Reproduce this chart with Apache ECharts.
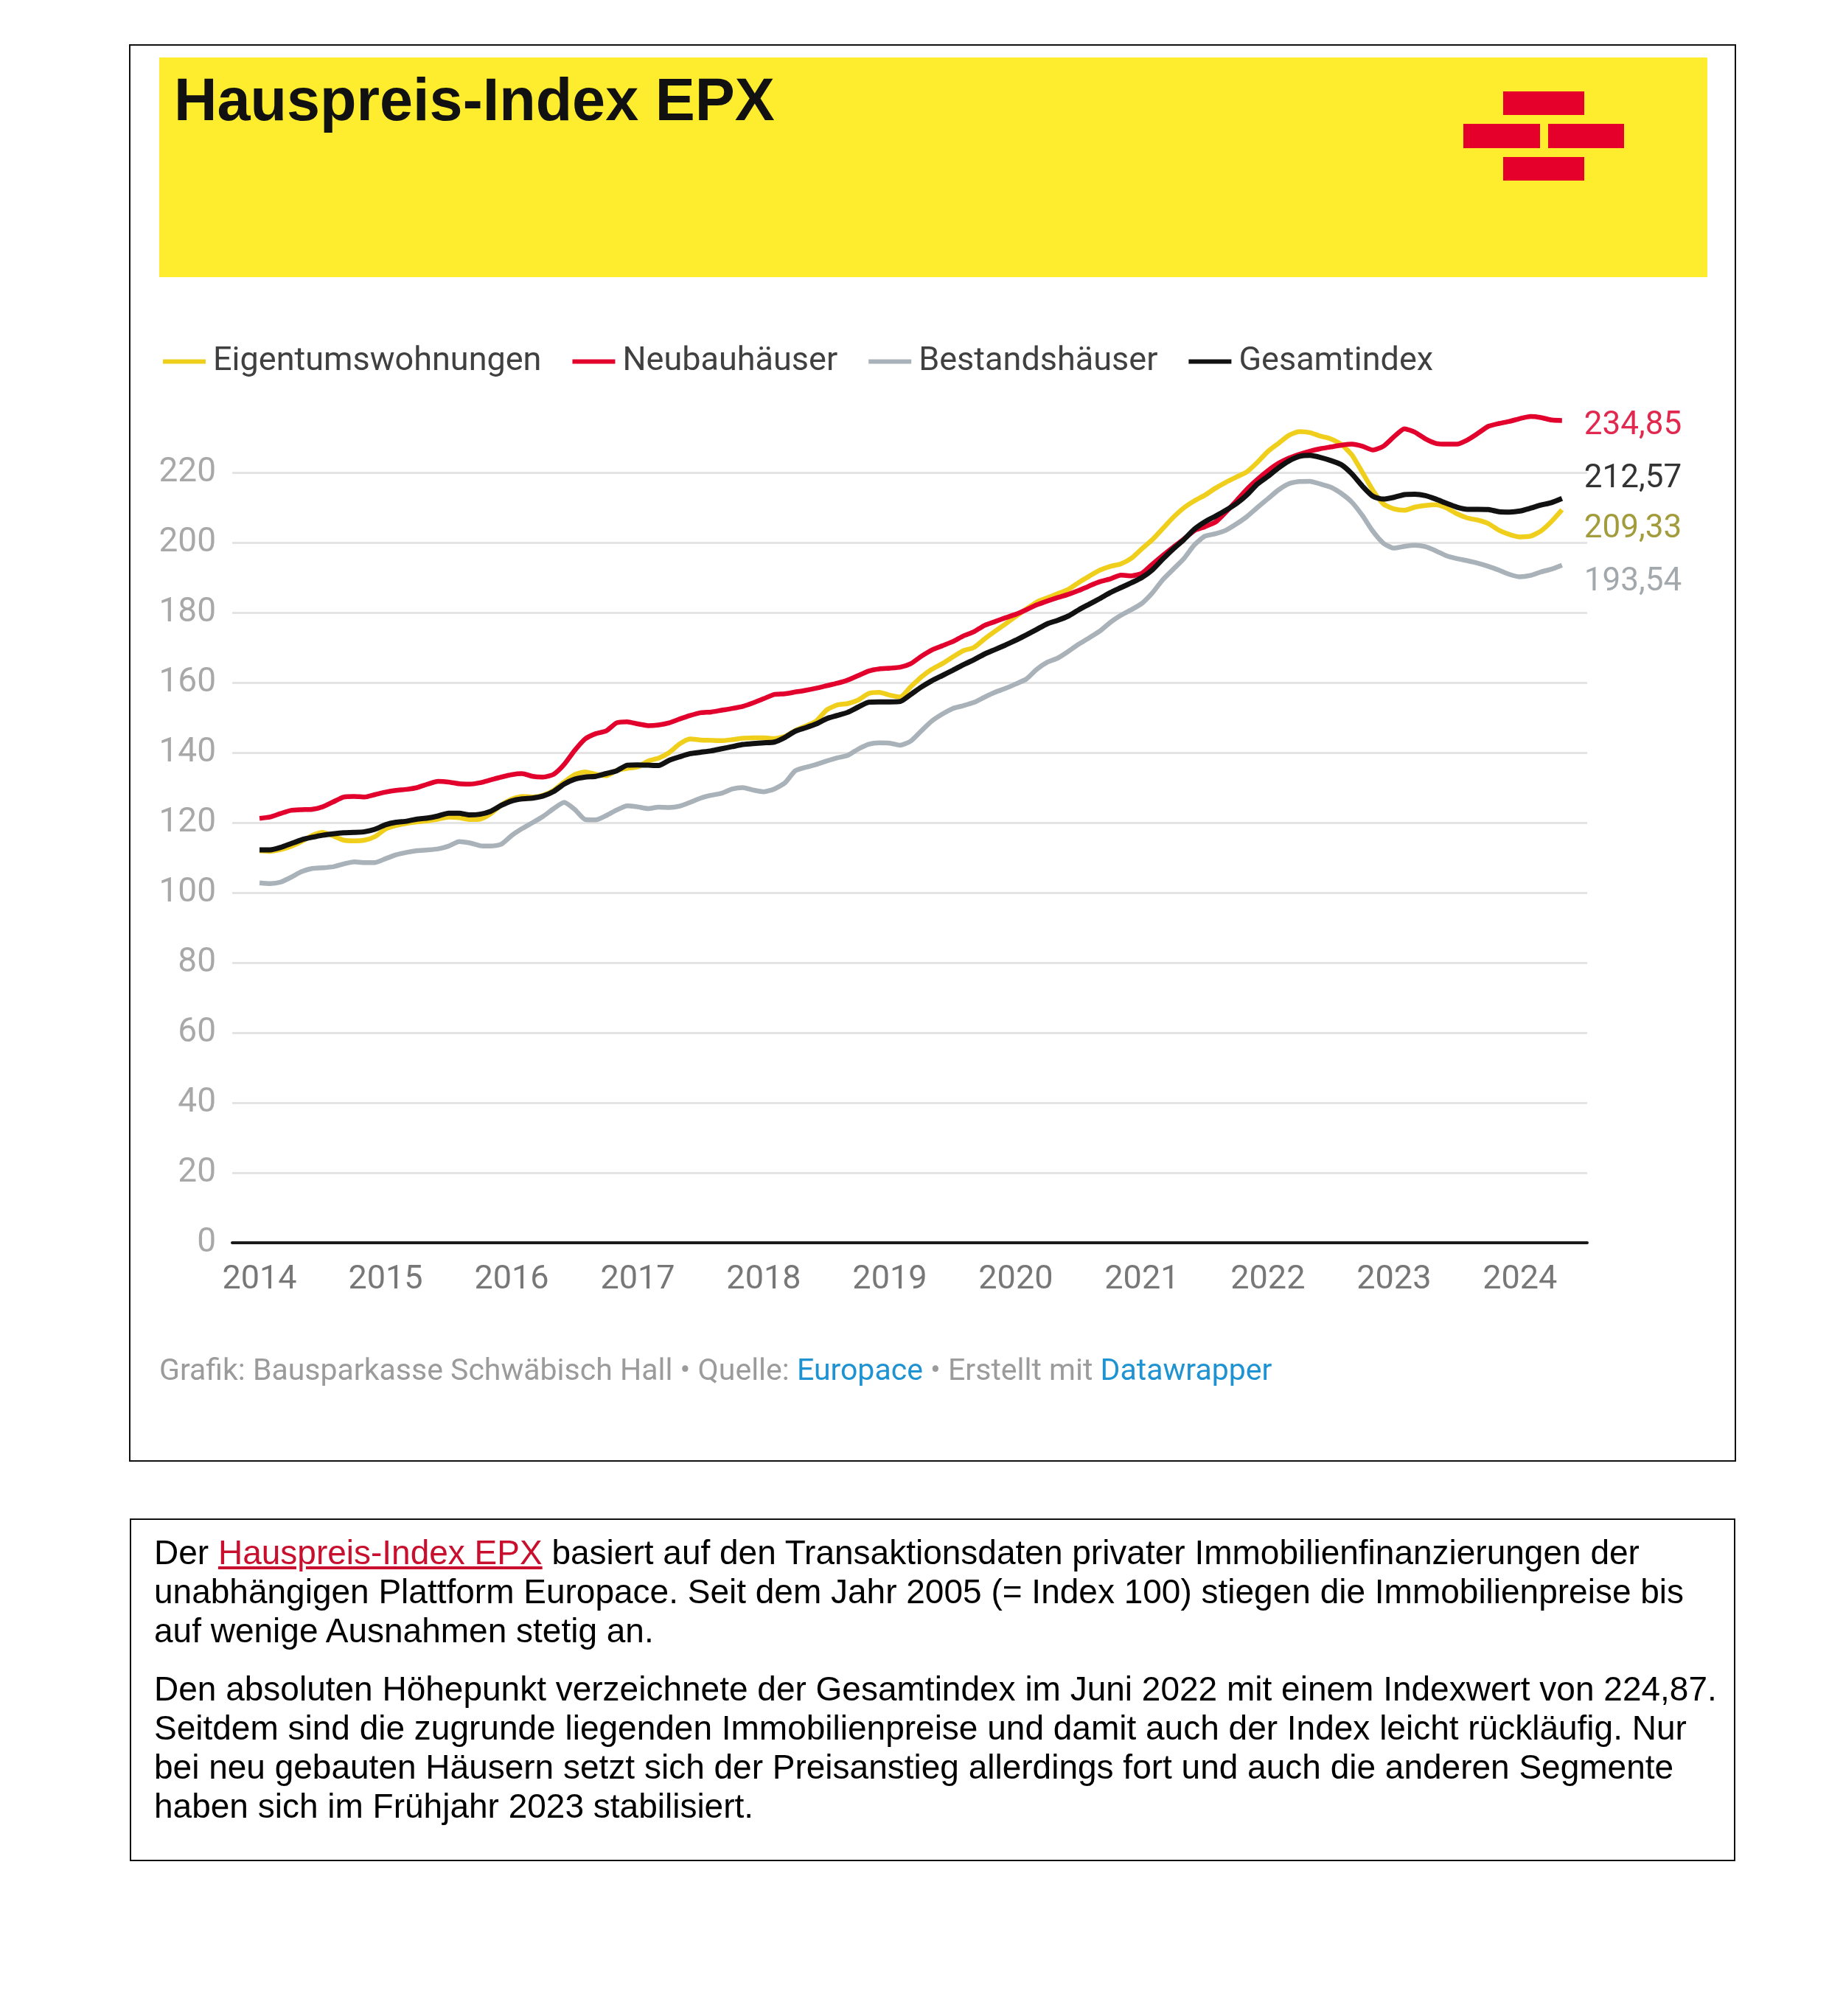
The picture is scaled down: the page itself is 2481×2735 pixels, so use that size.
<!DOCTYPE html>
<html>
<head>
<meta charset="utf-8">
<script src="https://cdn.jsdelivr.net/npm/echarts@6/dist/echarts.min.js"></script>
<style>
html,body{margin:0;padding:0;background:#fff;}
#chart{position:absolute;left:0;top:0;width:2481px;height:2735px;}
#note{position:absolute;left:176px;top:2060px;width:2174px;height:461px;border:2px solid #111;font-family:"Liberation Sans",Arial,sans-serif;font-size:46px;line-height:53px;color:#000;}
#note p{margin:0;padding:0 0 0 31px;white-space:nowrap;}
#note a{color:#c8102e;text-decoration:underline;}
</style>
</head>
<body>
<div id="chart"></div>
<div id="note">
<p style="margin-top:18px">Der <a>Hauspreis-Index EPX</a> basiert auf den Transaktionsdaten privater Immobilienfinanzierungen der<br>unabhängigen Plattform Europace. Seit dem Jahr 2005 (= Index 100) stiegen die Immobilienpreise bis<br>auf wenige Ausnahmen stetig an.</p>
<p style="margin-top:26px">Den absoluten Höhepunkt verzeichnete der Gesamtindex im Juni 2022 mit einem Indexwert von 224,87.<br>Seitdem sind die zugrunde liegenden Immobilienpreise und damit auch der Index leicht rückläufig. Nur<br>bei neu gebauten Häusern setzt sich der Preisanstieg allerdings fort und auch die anderen Segmente<br>haben sich im Frühjahr 2023 stabilisiert.</p>
</div>
<script>
// ---- data (monthly, Jan 2014 .. May 2024) ----
const years = ['2014','2015','2016','2017','2018','2019','2020','2021','2022','2023','2024'];
const seriesNames = ['Eigentumswohnungen','Neubauhäuser','Bestandshäuser','Gesamtindex'];
const endLabelTexts = ['209,33','234,85','193,54','212,57'];

const eigentumswohnungen = [
112.0,111.8,112.3,113.2,114.6,116.3,117.2,116.2,115.0,114.8,
115.0,116.0,118.2,119.2,119.8,120.2,120.5,121.0,121.6,121.4,
120.9,121.0,122.5,125.0,126.7,127.5,127.3,127.8,129.2,131.6,
133.7,134.5,133.8,133.4,134.9,135.5,135.9,137.6,138.4,140.0,
142.5,143.9,143.6,143.5,143.4,143.7,144.1,144.2,144.2,144.0,
144.6,146.3,147.6,149.0,152.2,153.6,154.0,155.0,156.9,157.2,
156.4,155.9,158.8,161.6,163.8,165.4,167.3,169.1,170.0,172.4,
174.6,176.7,178.9,181.0,183.0,184.2,185.4,186.6,188.6,190.4,
192.1,193.2,193.9,195.5,198.2,200.8,204.0,207.2,209.9,211.9,
213.5,215.5,217.2,218.7,220.2,222.9,226.0,228.3,230.6,231.7,
231.4,230.4,229.6,228.0,225.0,220.0,214.9,211.0,209.6,209.2,
210.1,210.6,210.8,209.9,208.2,207.0,206.4,205.4,203.5,202.3,
201.6,201.8,203.3,206.0,209.33];

const neubauhaeuser = [
121.2,121.6,122.6,123.5,123.7,123.8,124.5,125.9,127.3,127.5,
127.3,128.0,128.7,129.2,129.5,130.0,131.0,131.8,131.6,131.1,
131.0,131.4,132.2,133.0,133.7,134.0,133.2,133.0,133.8,136.6,
140.6,143.9,145.4,146.2,148.5,148.8,148.2,147.7,147.9,148.5,
149.6,150.6,151.4,151.6,152.1,152.6,153.2,154.2,155.4,156.6,
156.8,157.3,157.8,158.4,159.1,159.8,160.7,162.0,163.3,163.9,
164.1,164.4,165.4,167.5,169.3,170.5,171.7,173.3,174.5,176.3,
177.4,178.5,179.5,180.8,182.2,183.3,184.3,185.2,186.3,187.6,
188.8,189.6,190.7,190.5,191.2,193.8,196.3,198.7,201.0,203.4,
204.5,205.8,208.7,211.9,215.2,218.0,220.5,222.6,224.1,225.2,
226.1,226.8,227.3,227.8,228.1,227.5,226.4,227.5,230.2,232.5,
231.5,229.6,228.3,228.1,228.1,229.3,231.2,233.2,234.0,234.6,
235.4,236.0,235.7,235.0,234.85];

const bestandshaeuser = [
102.8,102.6,103.0,104.4,106.0,106.9,107.1,107.4,108.2,108.8,
108.6,108.6,109.7,110.8,111.5,112.0,112.2,112.5,113.3,114.6,
114.2,113.4,113.3,113.8,116.3,118.3,120.0,121.8,124.0,125.8,
123.8,120.9,120.8,122.0,123.6,124.8,124.5,124.0,124.4,124.3,
124.7,125.8,127.0,127.8,128.4,129.6,130.0,129.3,128.8,129.6,
131.3,134.8,135.8,136.6,137.6,138.5,139.2,141.0,142.4,142.8,
142.7,142.1,143.3,146.2,149.0,151.0,152.6,153.4,154.3,155.8,
157.2,158.3,159.6,161.0,163.8,165.8,167.0,168.9,171.0,172.8,
174.7,177.2,179.2,180.8,182.6,185.6,189.4,192.4,195.4,199.3,
201.8,202.5,203.5,205.3,207.4,210.0,212.5,215.0,216.8,217.4,
217.5,216.7,215.8,214.0,211.5,207.7,203.2,199.8,198.4,198.9,
199.2,198.8,197.6,196.2,195.4,194.8,194.1,193.2,192.1,190.9,
190.2,190.6,191.6,192.4,193.54];

const gesamtindex = [
112.2,112.2,112.9,114.0,115.1,115.8,116.4,116.8,117.1,117.2,
117.4,118.1,119.4,120.1,120.4,121.0,121.3,121.9,122.7,122.7,
122.2,122.4,123.2,124.9,126.2,126.8,127.0,127.6,128.9,131.0,
132.4,133.0,133.2,134.0,134.8,136.4,136.5,136.4,136.3,137.8,
138.8,139.7,140.1,140.5,141.1,141.7,142.3,142.6,142.8,143.0,
144.3,146.1,147.1,148.2,149.7,150.6,151.5,153.0,154.4,154.5,
154.5,154.6,156.6,158.7,160.5,162.0,163.5,165.1,166.5,168.1,
169.4,170.7,172.1,173.6,175.2,176.8,177.8,179.0,180.8,182.4,
184.0,185.7,187.1,188.5,190.0,192.2,195.3,198.2,200.8,203.8,
205.9,207.5,209.2,211.1,213.6,216.7,218.9,221.3,223.3,224.6,
224.87,224.3,223.4,222.2,219.6,216.1,213.2,212.4,212.9,213.7,
213.8,213.4,212.4,211.2,210.1,209.5,209.5,209.4,208.8,208.7,
209.0,209.8,210.7,211.4,212.57];

const months = [];
for (let y = 2014; y <= 2024; y++) for (let m = 1; m <= 12; m++) months.push(y + '-' + String(m).padStart(2, '0'));
months.length = gesamtindex.length;

const colors = ['#f0cf1c', '#e2002d', '#a9b2b8', '#111111'];
const labelColors = ['#a39c3c', '#e1284f', '#a2a8ac', '#333333'];
const labelOffsets = [[22, 26], [22, 8], [22, 23], [22, -26]];
const allValues = [eigentumswohnungen, neubauhaeuser, bestandshaeuser, gesamtindex];

const chart = echarts.init(document.getElementById('chart'), null, {renderer: 'canvas', width: 2481, height: 2735});

const series = allValues.map((vals, k) => ({
  name: seriesNames[k],
  type: 'line',
  data: vals.map((v, i) => [i, v]),
  showSymbol: false,
  symbol: 'none',
  smooth: 0.2,
  clip: false,
  color: colors[k],
  lineStyle: {color: colors[k], width: k === 3 ? 7 : 6.5},
  emphasis: {disabled: true},
  endLabel: {
    show: true,
    formatter: endLabelTexts[k],
    color: labelColors[k],
    fontSize: 44,
    fontFamily: 'Roboto',
    offset: labelOffsets[k]
  },
  z: 2 + k
}));

chart.setOption({
  animation: false,
  backgroundColor: '#fff',
  textStyle: {fontFamily: 'Roboto'},
  grid: {left: 315, right: 328, top: 641, bottom: 1049, containLabel: false},
  legend: {
    left: 216, top: 463, icon: 'rect', itemWidth: 58, itemHeight: 6, itemGap: 42,
    selectedMode: false,
    data: seriesNames,
    textStyle: {fontSize: 45, color: '#404040', fontFamily: 'Roboto', padding: [0, 0, 0, 5]}
  },
  xAxis: {
    type: 'value', min: -2.6, max: 126.4,
    axisLine: {show: true, onZero: false, lineStyle: {color: '#1a1a1a', width: 4}},
    axisTick: {show: false},
    splitLine: {show: false},
    axisLabel: {
      customValues: years.map((y, i) => i * 12),
      formatter: v => years[Math.round(v / 12)],
      fontSize: 45, color: '#777', margin: 28, fontFamily: 'Roboto'
    }
  },
  yAxis: {
    type: 'value', min: 0, max: 220, interval: 20,
    axisLine: {show: false}, axisTick: {show: false},
    splitLine: {lineStyle: {color: '#e4e4e4', width: 3}},
    axisLabel: {fontSize: 46, color: '#a8a8a8', margin: 22, fontFamily: 'Roboto'}
  },
  series: series,
  graphic: [
    {type: 'rect', shape: {x: 176, y: 61, width: 2178, height: 1921}, style: {fill: 'none', stroke: '#111', lineWidth: 2}, silent: true},
    {type: 'rect', shape: {x: 216, y: 78, width: 2100, height: 298}, style: {fill: '#feec2e'}, silent: true},
    {type: 'text', x: 236, y: 141, style: {text: 'Hauspreis-Index EPX', font: 'bold 81px "Liberation Sans", Arial, sans-serif', fill: '#111', verticalAlign: 'middle'}, silent: true},
    {type: 'rect', shape: {x: 2039, y: 124, width: 110, height: 32}, style: {fill: '#e4002b'}, silent: true},
    {type: 'rect', shape: {x: 1985, y: 168, width: 104, height: 33}, style: {fill: '#e4002b'}, silent: true},
    {type: 'rect', shape: {x: 2100, y: 168, width: 103, height: 33}, style: {fill: '#e4002b'}, silent: true},
    {type: 'rect', shape: {x: 2039, y: 213, width: 110, height: 32}, style: {fill: '#e4002b'}, silent: true},
    {type: 'text', x: 216, y: 1862, style: {
      text: '{g|Grafik: Bausparkasse Schwäbisch Hall • Quelle: }{b|Europace}{g| • Erstellt mit }{b|Datawrapper}',
      verticalAlign: 'middle',
      rich: {
        g: {fontSize: 41, fill: '#9b9b9b', fontFamily: 'Roboto'},
        b: {fontSize: 41, fill: '#1f93d2', fontFamily: 'Roboto'}
      }
    }, silent: true}
  ]
});
</script>
</body>
</html>
